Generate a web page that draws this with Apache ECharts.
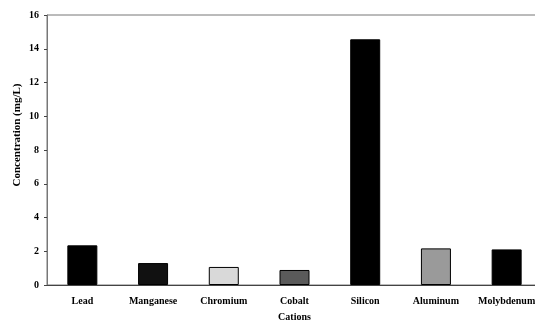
<!DOCTYPE html>
<html>
<head>
<meta charset="utf-8">
<script src="https://cdn.jsdelivr.net/npm/echarts@6/dist/echarts.min.js"></script>
<style>
  html, body { margin: 0; padding: 0; background: #fff; }
  #chart { width: 535px; height: 322px; }
</style>
</head>
<body>
<div id="chart"></div>
<script>
const cations = ["Lead", "Manganese", "Chromium", "Cobalt", "Silicon", "Aluminum", "Molybdenum"];
const concentration = [2.35, 1.3, 1.07, 0.89, 14.56, 2.17, 2.11];
const barColors = ["#000", "#111", "#d9d9d9", "#5a5a5a", "#000", "#9a9a9a", "#000"];

const chart = echarts.init(document.getElementById("chart"), null, { renderer: "canvas" });
const font = "Liberation Serif";

chart.setOption({
  animation: false,
  grid: {
    left: 47, right: -7, top: 15, bottom: 37,
    outerBoundsMode: "none",
    show: true, borderColor: "#777", borderWidth: 1
  },
  xAxis: {
    type: "category",
    data: cations,
    name: "Cations",
    nameLocation: "middle",
    nameGap: 27,
    nameMoveOverlap: false,
    nameTextStyle: { fontFamily: font, fontWeight: "bold", fontSize: 10, color: "#000" },
    axisLine: { lineStyle: { color: "#444" } },
    axisTick: { length: 4, lineStyle: { color: "#444" } },
    axisLabel: { interval: 0, fontFamily: font, fontWeight: "bold", fontSize: 10, color: "#000", margin: 11 }
  },
  yAxis: {
    type: "value",
    min: 0, max: 16, interval: 2,
    name: "Concentration (mg/L)",
    nameLocation: "middle",
    nameGap: 24,
    nameMoveOverlap: false,
    nameTextStyle: { fontFamily: font, fontWeight: "bold", fontSize: 11, color: "#000", padding: [0, 0, 0, 30] },
    axisLine: { show: true, lineStyle: { color: "#777" } },
    axisTick: { show: true, length: 3, lineStyle: { color: "#444" } },
    axisLabel: { fontFamily: font, fontWeight: "bold", fontSize: 10, color: "#000", margin: 8 },
    splitLine: { show: false }
  },
  series: [{
    type: "bar",
    barWidth: 30,
    data: concentration.map((v, i) => ({
      value: v,
      itemStyle: { color: barColors[i], borderColor: "#000", borderWidth: 1 }
    }))
  }]
});
</script>
</body>
</html>
